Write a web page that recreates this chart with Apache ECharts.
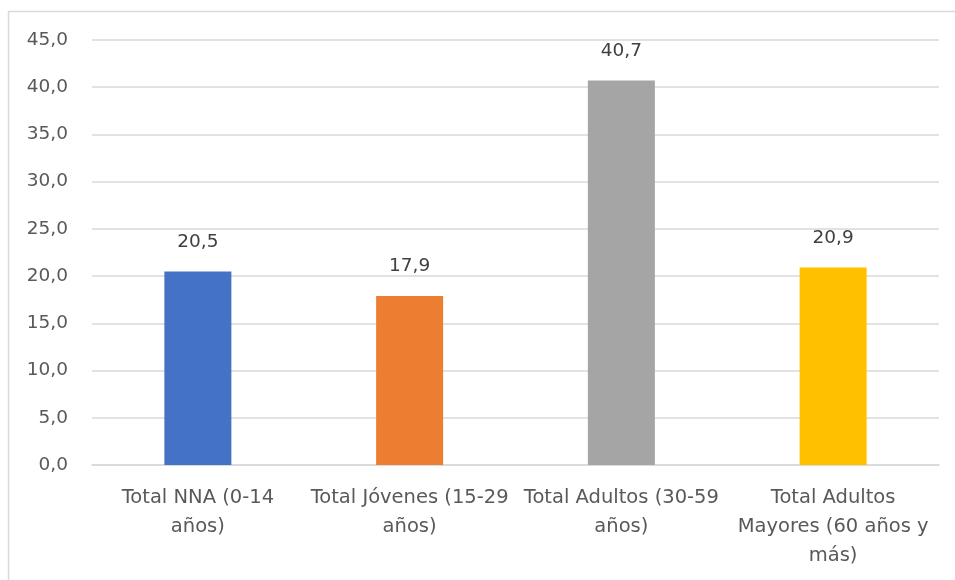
<!DOCTYPE html>
<html>
<head>
<meta charset="utf-8">
<script src="https://cdn.jsdelivr.net/npm/echarts@6/dist/echarts.min.js"></script>
<style>
  html, body { margin: 0; padding: 0; background: #ffffff; overflow: hidden; }
  #chart { width: 955px; height: 580px; }
</style>
</head>
<body>
<div id="chart"></div>
<script>
// Age-group categories and their percentages
const categories = [
  'Total NNA (0-14\naños)',
  'Total Jóvenes (15-29\naños)',
  'Total Adultos (30-59\naños)',
  'Total Adultos\nMayores (60 años y\nmás)'
];
const values = [20.5, 17.9, 40.7, 20.9];
const barColors = ['#4472C4', '#ED7D31', '#A5A5A5', '#FFC000'];

const FONT = '"DejaVu Sans", "Open Sans", sans-serif';
const fmt = v => v.toFixed(1).replace('.', ',');

const chart = echarts.init(document.getElementById('chart'), null, { renderer: 'canvas' });
chart.setOption({
  backgroundColor: '#ffffff',
  animation: false,
  graphic: [{
    // chart-area frame: left and top edges
    type: 'polyline',
    shape: { points: [[8.5, 600], [8.5, 11.5], [990, 11.5]] },
    style: { fill: 'none', stroke: '#d9d9d9', lineWidth: 1.5 },
    silent: true
  }],
  grid: { left: 92, right: 16, top: 40, bottom: 115 },
  xAxis: {
    type: 'category',
    data: categories,
    axisLine: { lineStyle: { color: '#d9d9d9', width: 1.5 } },
    axisTick: { show: false },
    axisLabel: {
      color: '#595959',
      fontFamily: FONT,
      fontSize: 19.5,
      lineHeight: 29,
      margin: 18,
      interval: 0
    }
  },
  yAxis: {
    type: 'value',
    min: 0,
    max: 45,
    interval: 5,
    axisLine: { show: false },
    axisTick: { show: false },
    splitLine: { lineStyle: { color: '#d9d9d9', width: 1.5 } },
    axisLabel: {
      color: '#595959',
      fontFamily: FONT,
      fontSize: 18.5,
      margin: 24,
      formatter: v => fmt(v)
    }
  },
  series: [{
    type: 'bar',
    barWidth: 67,
    data: values.map((v, i) => ({ value: v, itemStyle: { color: barColors[i] } })),
    label: {
      show: true,
      position: 'top',
      distance: 20,
      color: '#404040',
      fontFamily: FONT,
      fontSize: 18.5,
      formatter: p => fmt(p.value)
    }
  }]
});
</script>
</body>
</html>
